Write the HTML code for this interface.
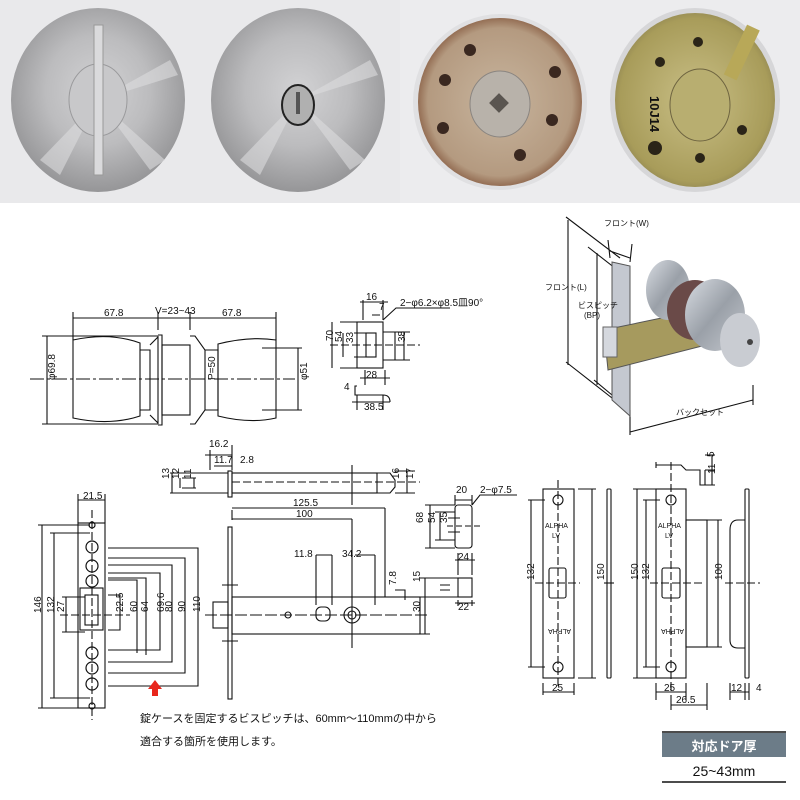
<!DOCTYPE html>
<html><head><meta charset="utf-8"><style>
html,body{margin:0;padding:0;background:#fff}
svg{display:block}
text{font-family:"Liberation Sans","Noto Sans CJK JP",sans-serif;fill:#111}
</style></head><body>
<svg width="800" height="800" viewBox="0 0 800 800" xmlns="http://www.w3.org/2000/svg">
<defs>
<radialGradient id="steel" cx="50%" cy="45%" r="60%">
<stop offset="0" stop-color="#d2d2d4"/><stop offset="0.5" stop-color="#bcbcbe"/><stop offset="1" stop-color="#8e8e90"/></radialGradient>
<radialGradient id="cop" cx="50%" cy="50%" r="55%">
<stop offset="0" stop-color="#c8b59e"/><stop offset="0.8" stop-color="#b49a80"/><stop offset="1" stop-color="#7a4a30"/></radialGradient>
<radialGradient id="brass" cx="50%" cy="50%" r="55%">
<stop offset="0" stop-color="#c9bf86"/><stop offset="0.85" stop-color="#a89c5a"/><stop offset="1" stop-color="#8a8050"/></radialGradient>
<linearGradient id="knobg" x1="0" y1="0" x2="1" y2="1">
<stop offset="0" stop-color="#d8dce2"/><stop offset="0.5" stop-color="#9aa0a8"/><stop offset="1" stop-color="#c4c8ce"/></linearGradient>
</defs>
<!-- photos -->
<rect x="0" y="0" width="400" height="203" fill="#e9e9eb"/>
<rect x="400" y="0" width="400" height="203" fill="#ececee"/>
<ellipse cx="98" cy="100" rx="87" ry="92" fill="url(#steel)"/>
<path d="M98 100 L40 160 L60 175 Z M98 100 L170 60 L178 75 Z M98 100 L150 170 L165 160 Z" fill="#dcdcde" opacity="0.6"/>
<ellipse cx="98" cy="100" rx="29" ry="36" fill="#c8c8ca" stroke="#9a9a9c"/>
<rect x="94" y="25" width="9" height="150" fill="#dadadc" stroke="#999"/>
<ellipse cx="298" cy="100" rx="87" ry="92" fill="url(#steel)"/>
<path d="M298 100 L240 160 L260 175 Z M298 100 L370 60 L378 75 Z M298 100 L350 170 L365 160 Z" fill="#dcdcde" opacity="0.6"/>
<ellipse cx="298" cy="105" rx="16" ry="20" fill="#b0b0b0" stroke="#222" stroke-width="2"/>
<rect x="296" y="92" width="4" height="22" fill="#555"/>
<ellipse cx="500" cy="102" rx="87" ry="88" fill="#e0e0e2"/>
<ellipse cx="500" cy="102" rx="82" ry="84" fill="url(#cop)"/>
<ellipse cx="500" cy="104" rx="30" ry="33" fill="#b8b2aa" stroke="#8a8580"/>
<rect x="492" y="96" width="14" height="14" fill="#5a5550" transform="rotate(45 499 103)"/>
<g fill="#3a2820"><circle cx="470" cy="50" r="6"/><circle cx="555" cy="72" r="6"/><circle cx="445" cy="80" r="6"/><circle cx="552" cy="120" r="6"/><circle cx="443" cy="128" r="6"/><circle cx="520" cy="155" r="6"/></g>
<ellipse cx="695" cy="100" rx="85" ry="92" fill="#d6d6d8"/>
<ellipse cx="695" cy="100" rx="80" ry="87" fill="url(#brass)"/>
<ellipse cx="700" cy="105" rx="30" ry="36" fill="#b8ae70" stroke="#6e6440"/>
<g fill="#2a2418"><circle cx="698" cy="42" r="5"/><circle cx="660" cy="62" r="5"/><circle cx="742" cy="130" r="5"/><circle cx="655" cy="148" r="7"/><circle cx="700" cy="158" r="5"/></g>
<rect x="735" y="25" width="14" height="55" fill="#b8a858" transform="rotate(25 742 52)"/>
<text x="636" y="98" font-size="13" font-weight="bold" transform="rotate(90 644 104)">10J14</text>

<g stroke="#111" fill="none" stroke-width="1.1">
<!-- knob drawing -->
<path d="M73 340 Q110 332 140 343 L140 416 Q110 426 73 418 Z"/>
<path d="M140 350 L150 350 L150 410 L140 410"/>
<path d="M150 345 L158 337 L158 423 L150 415"/>
<path d="M158 335 L162 335 L162 425 L158 425"/>
<rect x="162" y="345" width="28" height="70"/>
<path d="M190 336 L195 336 L205 350 L205 410 L195 424 L190 424"/>
<path d="M205 350 L218 350 L218 410 L205 410"/>
<path d="M218 344 Q250 336 276 340 L276 418 Q250 424 218 416 Z"/>
<path d="M73 318 L276 318 M73 312 L73 340 M158 312 L158 330 M190 312 L190 330 M276 312 L276 340"/>
<path d="M42 336 L158 336 M42 424 L158 424 M47 336 L47 424"/>
<path d="M262 348 L302 348 M262 410 L302 410 M298 348 L298 410"/>
<path d="M30 379 L295 379" stroke-dasharray="14 3 3 3"/>
<!-- small strike -->
<rect x="357" y="322" width="26" height="46"/>
<rect x="366" y="333" width="10" height="24"/>
<path d="M340 322 L357 322 M340 368 L357 368 M332 322 L332 368 M343 333 L343 357 M354 333 L366 333 M354 357 L366 357 M383 332 L395 332 L395 360 L383 360 M395 332 L410 332 M395 360 L410 360 M404 332 L404 360"/>
<path d="M330 345 L420 345" stroke-dasharray="8 3"/>
<path d="M357 386 L355 386 L355 395 L383 395 Q390 395 390 402 M357 395 L357 410 M383 395 L383 410 M352 402 L390 402"/>
<path d="M363 300 L363 320 M383 300 L383 320 M360 302 L388 302 M372 315 L380 315 M383 320 L396 308 L450 308"/>
<path d="M365 370 L365 385 M385 370 L385 385 M360 378 L390 378"/>
<!-- lower left faceplate -->
<rect x="78" y="523" width="27" height="185"/>
<rect x="80" y="588" width="23" height="42"/>
<rect x="85" y="595" width="13" height="30"/>
<g stroke-width="1.2"><circle cx="92" cy="547" r="6"/><circle cx="92" cy="566" r="6"/><circle cx="92" cy="581" r="6"/><circle cx="92" cy="653" r="6"/><circle cx="92" cy="668" r="6"/><circle cx="92" cy="684" r="6"/><circle cx="92" cy="525" r="3"/><circle cx="92" cy="706" r="3"/></g>
<path d="M92 510 L92 720" stroke-dasharray="8 3"/>
<path d="M78 500 L105 500 M78 494 L78 523 M105 494 L105 523"/>
<path d="M38 525 L90 525 M38 708 L90 708 M42 525 L42 708 M50 533 L90 533 M50 698 L90 698 M54 533 L54 698 M62 597 L85 597 M62 632 L85 632 M66 597 L66 632"/>
<path d="M108 548 L198 548 L198 686 L108 686 M108 558 L185 558 L185 673 L108 673 M108 565 L172 565 L172 662 L108 662 M108 573 L160 573 L160 650 L108 650 M108 578 L146 578 L146 655 M108 580 L137 580 L137 653 M108 595 L120 595 L120 630 L108 630"/>
<path d="M60 615 L130 615" stroke-dasharray="8 3"/>
<!-- latch top view -->
<rect x="228" y="471" width="4" height="26"/>
<rect x="232" y="473" width="145" height="20"/>
<path d="M377 473 L390 473 L395 480 L395 487 L390 493 L377 493 M395 471 L415 471 M395 493 L415 493 M407 471 L407 493"/>
<path d="M232 482 L420 482" stroke-dasharray="8 3"/>
<path d="M352 465 L352 505 M210 450 L210 470 M232 445 L232 470 M205 455 L232 455 M214 466 L232 466"/>
<path d="M170 473 L228 473 M170 493 L228 493 M172 473 L172 493 M182 478 L196 478 M182 488 L196 488 M180 478 L180 488 M194 478 L194 488"/>
<!-- lock body -->
<rect x="228" y="527" width="4" height="172"/>
<rect x="213" y="602" width="15" height="26"/>
<rect x="232" y="597" width="188" height="37"/>
<path d="M232 508 L385 508 M232 519 L352 519 M385 508 L385 597 M352 519 L352 648 M232 520 L232 510 M316 555 L332 555 M375 555 L355 555 M316 555 L316 605 M332 555 L332 605 M375 555 L375 605"/>
<path d="M205 615 L430 615" stroke-dasharray="12 3"/>
<path d="M420 597 L430 597 M420 634 L430 634 M425 597 L425 634 M395 590 L405 590 L405 600"/>
<circle cx="352" cy="615" r="8"/><circle cx="352" cy="615" r="4"/>
<circle cx="288" cy="615" r="3"/><rect x="316" y="607" width="14" height="14" rx="5"/>
<path d="M222 585 L238 585 M222 641 L238 641"/>
<!-- right strike -->
<rect x="455" y="505" width="17" height="43" rx="3"/>
<path d="M425 505 L455 505 M425 548 L455 548 M430 505 L430 548 M435 512 L455 512 M435 540 L455 540 M440 513 L440 540 M448 518 L460 518 M448 532 L460 532 M455 495 L455 505 M472 495 L472 505 M455 500 L472 500 M472 505 L480 495 L517 495"/>
<rect x="458" y="578" width="14" height="19"/>
<path d="M420 578 L458 578 M420 597 L458 597 M425 578 L425 597 M440 585 L450 585 M440 590 L450 590 M458 553 L458 575 M472 553 L472 575 M455 560 L475 560 M458 600 L458 606 M472 600 L472 606 M455 603 L475 603"/>
<path d="M447 526 L480 526" stroke-dasharray="6 3"/>
<!-- right plates -->
<rect x="543" y="489" width="31" height="189"/>
<circle cx="558" cy="500" r="5"/><circle cx="558" cy="667" r="5"/>
<rect x="549" y="568" width="17" height="30" rx="2"/>
<path d="M558 480 L558 690 M535 583 L580 583" stroke-dasharray="8 3"/>
<rect x="607" y="489" width="4" height="189" rx="1"/>
<path d="M604 583 L614 583"/>
<path d="M578 489 L596 489 M578 678 L596 678 M592 489 L592 678 M528 500 L545 500 M528 667 L545 667 M531 500 L531 667 M543 683 L543 695 M574 683 L574 695 M543 692 L574 692"/>
<rect x="656" y="489" width="30" height="189"/>
<rect x="686" y="520" width="21" height="127"/>
<circle cx="671" cy="500" r="5"/><circle cx="671" cy="667" r="5"/>
<rect x="662" y="568" width="18" height="30" rx="2"/>
<path d="M671 462 L671 690 M650 583 L705 583" stroke-dasharray="8 3"/>
<path d="M633 489 L656 489 M633 678 L656 678 M637 489 L637 678 M643 500 L660 500 M643 667 L660 667 M646 500 L646 667 M707 520 L722 520 M707 647 L722 647 M718 520 L718 647"/>
<path d="M656 683 L656 700 M686 683 L686 700 M707 683 L707 710 M671 695 L671 710 M656 692 L686 692 M671 705 L707 705"/>
<path d="M656 465 L681 465 L686 470 L700 470 L700 485 L705 485 L705 470 M656 462 L656 468 M705 455 L715 455 M705 470 L715 470 M705 485 L715 485 M712 455 L712 485"/>
<rect x="745" y="489" width="4" height="189" rx="1"/>
<path d="M745 520 L738 520 Q730 520 730 530 L730 640 Q730 648 738 648 L745 648"/>
<path d="M730 683 L730 700 M745 683 L745 700 M749 683 L749 700 M730 692 L749 692"/>
<path d="M725 583 L760 583" stroke-dasharray="8 3"/>
<!-- isometric lines -->
<path d="M566 217 L620 258 M588 247 L620 272 M608 240 L610 258 M632 244 L630 262 M610 251 L630 258 M568 220 L568 365 M597 253 L597 385 M566 362 L612 398 M594 380 L612 395 M630 410 L630 435 M630 432 L753 400 M753 385 L753 405"/>
</g>
<!-- iso product -->
<polygon points="612,262 630,266 630,416 612,400" fill="#c4c8d0" stroke="#555"/>
<polygon points="604,330 700,310 706,345 608,370" fill="#a69a5e" stroke="#555"/>
<rect x="603" y="327" width="14" height="30" fill="#d5d8de" stroke="#666"/>
<ellipse cx="668" cy="290" rx="22" ry="30" fill="url(#knobg)"/>
<ellipse cx="695" cy="310" rx="28" ry="30" fill="#6a4a48"/>
<ellipse cx="715" cy="315" rx="30" ry="36" fill="url(#knobg)"/>
<ellipse cx="740" cy="340" rx="20" ry="27" fill="#c9ccd2"/>
<circle cx="750" cy="342" r="3" fill="#444"/>
<text x="604" y="226" font-size="8">フロント(W)</text>
<text x="545" y="290" font-size="8">フロント(L)</text>
<text x="578" y="308" font-size="8">ビスピッチ</text>
<text x="584" y="318" font-size="8">(BP)</text>
<text x="676" y="415" font-size="8">バックセット</text>

<!-- labels -->
<g font-size="10">
<text x="104" y="316">67.8</text><text x="155" y="314">V=23~43</text><text x="222" y="316">67.8</text>
<text x="40" y="395" transform="rotate(-90 40 380)">φ69.8</text>
<text x="294" y="393" transform="rotate(-90 294 380)">φ51</text>
<text x="205" y="390" transform="rotate(-90 205 380)">P=50</text>
<text x="366" y="300">16</text><text x="379" y="310">7</text>
<text x="400" y="306">2−φ6.2×φ8.5皿90°</text>
<text x="330" y="352" transform="rotate(-90 326 345)">70</text>
<text x="340" y="350" transform="rotate(-90 337 345)">54</text>
<text x="350" y="350" transform="rotate(-90 348 345)">33</text>
<text x="403" y="350" transform="rotate(-90 400 345)">38</text>
<text x="366" y="378">28</text><text x="344" y="390">4</text><text x="364" y="410">38.5</text>
<text x="209" y="447">16.2</text><text x="214" y="463">11.7</text><text x="240" y="463">2.8</text>
<text x="168" y="488" transform="rotate(-90 164 483)">13</text>
<text x="178" y="488" transform="rotate(-90 174 483)">12</text>
<text x="190" y="488" transform="rotate(-90 186 483)">11</text>
<text x="398" y="488" transform="rotate(-90 394 483)">16</text>
<text x="412" y="488" transform="rotate(-90 408 483)">17</text>
<text x="293" y="506">125.5</text><text x="296" y="517">100</text>
<text x="294" y="557">11.8</text><text x="342" y="557">34.2</text>
<text x="392" y="595" transform="rotate(-90 389 588)">7.8</text>
<text x="418" y="620" transform="rotate(-90 415 615)">30</text>
<text x="83" y="499">21.5</text>
<text x="36" y="622" transform="rotate(-90 34 615)">146</text>
<text x="49" y="622" transform="rotate(-90 47 615)">132</text>
<text x="62" y="620" transform="rotate(-90 59 615)">27</text>
<text x="119" y="622" transform="rotate(-90 116 615)">22.5</text>
<text x="135" y="620" transform="rotate(-90 132 615)">60</text>
<text x="146" y="620" transform="rotate(-90 143 615)">64</text>
<text x="160" y="622" transform="rotate(-90 157 615)">69.6</text>
<text x="170" y="620" transform="rotate(-90 167 615)">80</text>
<text x="183" y="620" transform="rotate(-90 180 615)">90</text>
<text x="196" y="622" transform="rotate(-90 193 615)">110</text>
<text x="456" y="493">20</text><text x="480" y="493">2−φ7.5</text>
<text x="420" y="532" transform="rotate(-90 417 526)">68</text>
<text x="432" y="532" transform="rotate(-90 429 526)">54</text>
<text x="444" y="532" transform="rotate(-90 441 526)">35</text>
<text x="458" y="560">24</text>
<text x="418" y="590" transform="rotate(-90 415 585)">15</text>
<text x="458" y="610">22</text>
<text x="530" y="590" transform="rotate(-90 527 583)">132</text>
<text x="600" y="590" transform="rotate(-90 597 583)">150</text>
<text x="552" y="691">25</text>
<text x="634" y="590" transform="rotate(-90 631 583)">150</text>
<text x="645" y="590" transform="rotate(-90 642 583)">132</text>
<text x="718" y="590" transform="rotate(-90 715 583)">100</text>
<text x="664" y="691">25</text><text x="676" y="703">26.5</text>
<text x="731" y="691">12</text><text x="756" y="691">4</text>
<text x="715" y="462" transform="rotate(-90 712 460)">5</text>
<text x="715" y="480" transform="rotate(-90 712 477)">11</text>
</g>
<g font-size="7"><text x="545" y="528">ALPHA</text><text x="552" y="538">LV</text><text x="658" y="528">ALPHA</text><text x="665" y="538">LV</text>
<text x="545" y="635" transform="rotate(180 558 632)">ALPHA</text><text x="658" y="635" transform="rotate(180 671 632)">ALPHA</text></g>
<path d="M148 689 L155 680 L162 689 L158 689 L158 696 L152 696 L152 689 Z" fill="#e8261c"/>
<text x="140" y="722" font-size="11">錠ケースを固定するビスピッチは、60mm～110mmの中から</text>
<text x="140" y="745" font-size="11">適合する箇所を使用します。</text>
<rect x="662" y="733" width="124" height="24" fill="#6c7c88"/>
<line x1="662" y1="732" x2="786" y2="732" stroke="#111" stroke-width="1.5"/>
<text x="724" y="751" font-size="13" font-weight="bold" text-anchor="middle" style="fill:#fff">対応ドア厚</text>
<text x="724" y="776" font-size="14" text-anchor="middle">25~43mm</text>
<line x1="662" y1="782" x2="786" y2="782" stroke="#111" stroke-width="1.5"/>
</svg>
</body></html>
